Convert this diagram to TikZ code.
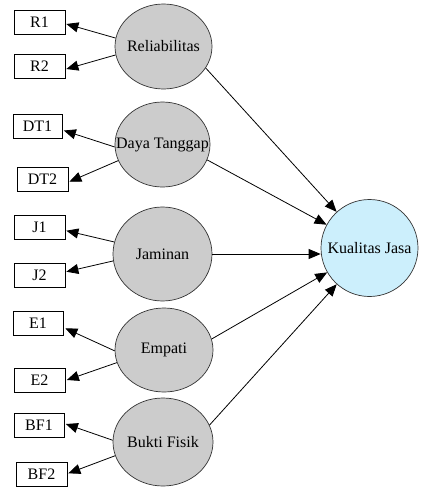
\documentclass[tikz,border=0pt]{standalone}
\usepackage{fontspec}
\setmainfont{Liberation Serif}
\usetikzlibrary{shapes.geometric,arrows.meta,calc}
\tikzset{
  ind/.style={draw=black, line width=0.7pt, fill=white, minimum width=51pt, minimum height=24pt, inner sep=0pt, font=\fontsize{16}{18}\selectfont},
  lat/.style={ellipse, draw=black!80, line width=0.7pt, fill=black!20, inner sep=0pt, font=\fontsize{16}{18}\selectfont},
  endo/.style={circle, draw=black!80, line width=0.7pt, fill=cyan!20, minimum size=97pt, inner sep=0pt, font=\fontsize{16}{18}\selectfont},
  arr/.style={-{Triangle[length=12pt,width=10pt]}, line width=0.8pt, black}
}
\begin{document}
\begin{tikzpicture}[x=1pt,y=-1pt]
\useasboundingbox (0,0) rectangle (426,496);
\node[lat, minimum width=97pt, minimum height=85pt] (rel) at (163.5,46.5) {\makebox[0pt]{Reliabilitas}};
\node[lat, minimum width=95pt, minimum height=85pt] (dt) at (162.5,144.5) {\makebox[0pt]{Daya Tanggap}};
\node[lat, minimum width=99pt, minimum height=94pt] (jam) at (162.5,254) {\makebox[0pt]{Jaminan}};
\node[lat, minimum width=98pt, minimum height=84pt] (emp) at (164,350) {\makebox[0pt]{Empati}};
\node[lat, minimum width=100pt, minimum height=88pt] (bf) at (163,442) {\makebox[0pt]{Bukti Fisik}};
\node[endo] (kj) at (369.5,248) {\makebox[0pt]{Kualitas Jasa}};

\node[ind] (r1) at (39.5,22) {R1};
\node[ind] (r2) at (39.5,66.5) {R2};
\node[ind, minimum width=49pt] (dt1) at (37.5,126.5) {DT1};
\node[ind] (dt2) at (42.5,179) {DT2};
\node[ind] (j1) at (39.5,227) {J1};
\node[ind] (j2) at (39.5,275.5) {J2};
\node[ind, minimum width=50pt] (e1) at (38,323.5) {E1};
\node[ind] (e2) at (39.5,380) {E2};
\node[ind, minimum width=50pt] (bf1) at (39,425) {BF1};
\node[ind] (bf2) at (41.5,474) {BF2};

\draw[arr] (rel.170) -- ($(r1.east)+(1,2)$);
\draw[arr] (rel.190) -- ($(r2.east)+(1,2.5)$);
\draw[arr] (dt.183) -- ($(dt1.east)+(1.5,4)$);
\draw[arr] (dt.200) -- ($(dt2.east)+(1,2.7)$);
\draw[arr] (jam.166) -- ($(j1.east)+(1,3.7)$);
\draw[arr] (jam.188) -- ($(j2.east)+(1,-3.8)$);
\draw[arr] (emp.181) -- ($(e1.east)+(2,4.8)$);
\draw[arr] (emp.195) -- ($(e2.east)+(1.5,0)$);
\draw[arr] (bf.178) -- ($(bf1.east)+(1.5,-1)$);
\draw[arr] (bf.196) -- ($(bf2.east)+(1,-0.7)$);

\draw[arr] (rel.-27) -- (kj);
\draw[arr] (dt.-19) -- (kj);
\draw[arr] (jam.east) -- (jam.east -| kj.west);
\draw[arr] (emp.13) -- (kj);
\draw[arr] (bf.20) -- (kj);
\end{tikzpicture}
\end{document}
